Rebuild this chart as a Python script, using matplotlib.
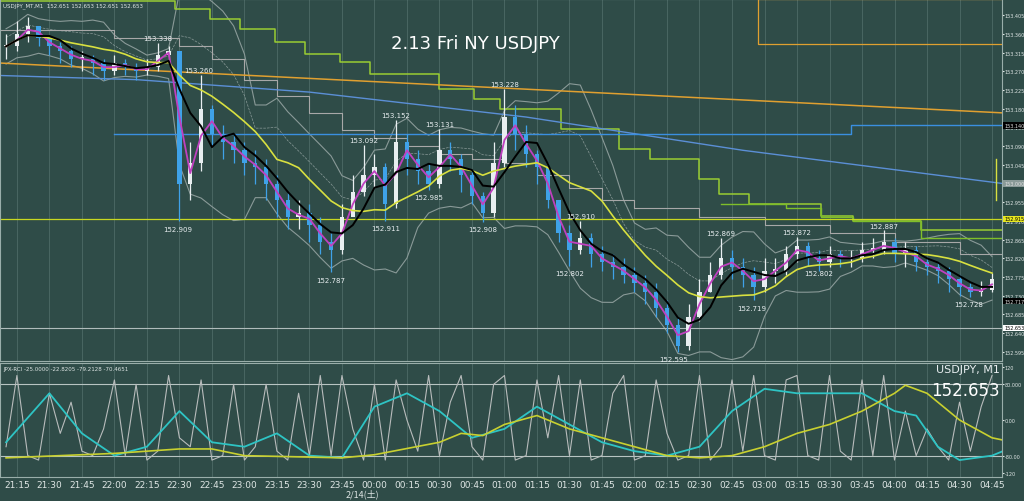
import matplotlib
matplotlib.use("Agg")
import matplotlib.pyplot as plt
import numpy as np
import pandas as pd

BG = "#2f4c48"
# ---- data ----
t0 = 10  # minutes after 21:00, step 5
closes = [153.33,153.36,153.38,153.35,153.33,153.32,153.30,153.30,153.29,153.27,
          153.29,153.28,153.27,153.28,153.31,153.32,153.00,153.05,153.18,153.12,
          153.10,153.08,153.05,153.04,153.00,152.96,152.92,152.93,152.90,152.86,
          152.84,152.92,152.98,153.02,153.04,152.95,153.10,153.06,153.03,153.00,
          153.08,153.06,153.02,152.97,152.93,153.05,153.16,153.12,153.07,153.04,
          152.96,152.88,152.84,152.87,152.83,152.81,152.80,152.78,152.76,152.74,
          152.70,152.66,152.61,152.68,152.74,152.78,152.82,152.80,152.78,152.75,
          152.79,152.79,152.83,152.85,152.82,152.81,152.83,152.82,152.82,152.84,
          152.84,152.86,152.83,152.84,152.81,152.80,152.79,152.77,152.75,152.74,
          152.745,152.77]
highs = [153.36,153.39,153.40,153.38,153.35,153.34,153.33,153.32,153.31,153.30,
         153.31,153.30,153.29,153.30,153.338,153.33,153.32,153.10,153.26,153.19,
         153.14,153.12,153.10,153.08,153.06,153.02,152.98,152.96,152.95,152.92,
         152.88,152.95,153.02,153.092,153.07,153.05,153.152,153.12,153.08,153.05,
         153.131,153.10,153.07,153.03,152.98,153.10,153.228,153.19,153.14,153.08,
         153.05,152.96,152.90,152.910,152.88,152.85,152.83,152.82,152.80,152.78,
         152.76,152.72,152.68,152.71,152.77,152.81,152.869,152.84,152.82,152.80,
         152.82,152.82,152.85,152.872,152.86,152.84,152.85,152.84,152.84,152.86,
         152.87,152.887,152.87,152.86,152.85,152.82,152.81,152.80,152.78,152.76,
         152.765,152.785]
lows = [153.30,153.32,153.34,153.33,153.31,153.29,153.28,153.27,153.26,153.25,
        153.26,153.26,153.25,153.26,153.27,153.30,152.909,152.96,153.03,153.09,
        153.06,153.05,153.02,153.00,152.96,152.92,152.89,152.89,152.86,152.83,
        152.787,152.83,152.93,152.97,152.99,152.911,152.94,153.02,153.00,152.985,
        152.99,153.03,152.98,152.95,152.908,152.92,153.04,153.08,153.04,153.00,
        152.94,152.86,152.802,152.83,152.80,152.79,152.77,152.76,152.74,152.71,
        152.68,152.64,152.595,152.60,152.67,152.74,152.77,152.77,152.75,152.719,
        152.74,152.76,152.78,152.81,152.802,152.79,152.80,152.80,152.80,152.81,
        152.82,152.83,152.81,152.80,152.79,152.78,152.76,152.74,152.73,152.728,
        152.73,152.74]

# step / level lines
stepA_t = [7,88,104,118,134,148,164,178,210,226,238,266,293,307,330,339,353,386,401,432,470]
stepA_p = [153.44,153.42,153.396,153.372,153.341,153.312,153.293,153.264,153.228,153.204,
           153.18,153.132,153.084,153.06,153.011,152.975,152.951,152.922,152.91,152.887,152.887]
stepB_t = [7,60,90,105,120,135,150,165,180,195,210,225,240,255,270,285,300,330,360,390,420,450,470]
stepB_p = [153.37,153.35,153.33,153.30,153.25,153.21,153.17,153.13,153.11,153.09,153.07,
           153.06,153.05,153.02,152.99,152.96,152.94,152.92,152.90,152.88,152.86,152.83,152.83]
stepC_t = [340,370,386,401,432,470]
stepC_p = [152.95,152.94,152.92,152.91,152.87,152.87]
orange_t = [7,470]; orange_p = [153.29,153.17]
blue_t = [7,70,150,250,350,470]; blue_p = [153.26,153.25,153.22,153.16,153.08,153.00]
hblue_t = [60,400,470]; hblue_p = [153.12,153.14,153.14]

labels = [(80,153.338,"153.338"),(99,153.260,"153.260"),(89,152.909,"152.909"),
          (160,152.787,"152.787"),(175,153.092,"153.092"),(185,152.911,"152.911"),
          (190,153.152,"153.152"),(205,152.985,"152.985"),(210,153.131,"153.131"),
          (230,152.908,"152.908"),(240,153.228,"153.228"),(275,152.910,"152.910"),
          (270,152.802,"152.802"),(318,152.595,"152.595"),(340,152.869,"152.869"),
          (354,152.719,"152.719"),(375,152.872,"152.872"),(385,152.802,"152.802"),
          (415,152.887,"152.887"),(454,152.728,"152.728")]

rci_slow_t = [10,60,90,105,120,165,180,210,220,230,240,255,270,285,300,315,330,345,360,375,390,405,420,425,435,450,465,470]
rci_slow = [-85,-75,-65,-65,-80,-85,-78,-50,-30,-35,-10,10,-20,-40,-60,-80,-85,-80,-60,-30,-10,20,60,78,60,0,-40,-45]
rci_mid_t = [10,30,45,60,75,90,105,120,135,150,165,180,195,210,225,240,255,270,285,300,315,330,345,360,375,390,405,420,430,440,450,465,470]
rci_mid = [-50,60,-30,-80,-60,20,-50,-60,-30,-80,-85,30,60,20,-40,-20,30,-10,-50,-70,-80,-60,20,70,60,60,60,20,10,-60,-90,-80,-70]
rci_fast_t = list(range(10,466,5))
rci_fast = [-60,100,-80,-90,60,-30,40,-70,-80,-20,
            90,-80,80,-90,-70,100,-40,-60,90,-90,
            -80,80,-90,-60,80,-70,-90,60,-80,100,
            -80,100,-20,-90,80,-90,90,0,-70,100,
            -80,40,100,-60,-90,80,100,-90,-80,90,
            -40,100,-80,90,-90,-80,60,100,-90,-80,
            90,-30,-90,-80,100,-90,-60,90,-70,100,
            -80,-90,90,100,-80,-90,100,-70,-90,90,
            -80,100,-90,20,-80,-20,-60,-90,40,-70,
            30,100]

times = np.arange(len(closes))*5 + t0
tick_t = list(range(15, 466, 15))
tick_lab = [f"{(21*60+m)//60%24:02d}:{(21*60+m)%60:02d}" for m in tick_t]
price_ticks = [153.405,153.360,153.315,153.270,153.225,153.180,153.135,153.090,153.045,
               153.000,152.955,152.910,152.865,152.820,152.775,152.730,152.685,152.640,152.595]

# ---- figure ----
plt.rcParams['font.family'] = ['DejaVu Sans', 'Noto Sans CJK JP']
W, H = 1024, 502
fig = plt.figure(figsize=(W/100, H/100), dpi=100, facecolor=BG)
XR = (7.2, 469.6)
ax = fig.add_axes([0, 1-362/H, 1002/W, 362/H], facecolor=BG)
ax2 = fig.add_axes([0, 1-478/H, 1002/W, 114/H], facecolor=BG)
for a in (ax, ax2):
    a.set_xlim(*XR)
    for s in a.spines.values():
        s.set_color("#9aaeaa"); s.set_linewidth(0.8)
    for tt in tick_t:
        a.axvline(tt, color="#4d6a66", lw=0.6, zorder=0)
ax.set_ylim(152.573, 153.444)
ax2.set_ylim(-128, 128)

c = pd.Series(closes)
bb_m = c.rolling(8, min_periods=1).mean()
bb_s = c.rolling(8, min_periods=2).std().bfill()
ax.plot(times, bb_m + 2*bb_s, color="#8a9a98", lw=0.8)
ax.plot(times, bb_m - 2*bb_s, color="#8a9a98", lw=0.8)
ax.plot(times, bb_m + 1*bb_s, color="#8a9a98", lw=0.5, ls="--")

ax.step(stepA_t, stepA_p, where="post", color="#9acd32", lw=1.1)
ax.step(stepB_t, stepB_p, where="post", color="#a8a8a8", lw=0.8)
ax.step(stepC_t, stepC_p, where="post", color="#7fbf2a", lw=1.0)
ax.plot(orange_t, orange_p, color="#e0a030", lw=1.1)
ax.plot(blue_t, blue_p, color="#5b8fd6", lw=1.0)
ax.step(hblue_t, hblue_p, where="post", color="#3a8fe0", lw=1.0)
ax.axhline(152.915, color="#c8d820", lw=0.9)
ax.axhline(152.653, color="#b0bcbb", lw=0.8)
ax.plot([357, 470, 470], [153.444, 153.444, 153.335], color="#e0a030", lw=0.9)
ax.plot([357, 357, 470], [153.444, 153.335, 153.335], color="#e0a030", lw=0.9)

opens = [closes[0]] + closes[:-1]
for tt, o, h, l, cl in zip(times, opens, highs, lows, closes):
    col = "#e8eef0" if cl >= o else "#3fa2e8"
    ax.vlines(tt, l, h, color=col, lw=0.9, zorder=3)
    ax.bar(tt, max(abs(cl-o), 0.004), bottom=min(o, cl), width=2.0, color=col, zorder=3)

ax.plot(times, c.rolling(2, min_periods=1).mean(), color="#c040c0", lw=1.3, zorder=4)
ax.plot(times, c.rolling(4, min_periods=1).mean(), color="black", lw=1.4, zorder=5)
ax.plot(times, c.rolling(10, min_periods=1).mean(), color="#d8e040", lw=1.2, zorder=4)

for tt, p, s in labels:
    off = 0.012 if p > c.rolling(4, min_periods=1).mean()[int((tt-t0)//5)] else -0.018
    ax.text(tt, p+off, s, color="#e8eef0", fontsize=5, ha="center", va="center", zorder=6)

ax.yaxis.tick_right()
ax.set_yticks(price_ticks)
ax.set_yticklabels([f"{v:.3f}" for v in price_ticks], fontsize=3.5, color="#dfe6e5")
ax.tick_params(axis="y", length=1.5, pad=0.5, colors="#dfe6e5")
ax.set_xticks([])
boxes = [(153.140, "153.140", "black", "#e0e0e0"), (153.000, "153.000", "#8a9a98", "#e0e0e0"),
         (152.915, "152.915", "#e8e820", "black"), (152.717, "152.717", "black", "#e0e0e0"),
         (152.653, "152.653", "white", "black")]
for p, s, fc, tc in boxes:
    ax.text(1.002, p, s, transform=ax.get_yaxis_transform(), fontsize=3.5, color=tc, zorder=10,
            va="center", ha="left", bbox=dict(fc=fc, ec="none", pad=0.5), clip_on=False)
ax.plot([467, 467], [153.06, 152.96], color="#d8e040", lw=1)
ax.text(0.39, 0.865, "2.13 Fri NY USDJPY", transform=ax.transAxes, fontsize=13, color="white")
ax.text(0.003, 0.99, "USDJPY_MT,M1  152.651 152.653 152.651 152.653", transform=ax.transAxes,
        fontsize=4, color="#dfe6e5", va="top")

ax2.axhline(80, color="#b8c4c2", lw=0.8); ax2.axhline(-80, color="#b8c4c2", lw=0.8)
ax2.plot(rci_fast_t, rci_fast, color="#b8bcbc", lw=0.8)
ax2.plot(rci_mid_t, rci_mid, color="#2ec4c4", lw=1.3)
ax2.plot(rci_slow_t, rci_slow, color="#c8d030", lw=1.2)
ax2.yaxis.tick_right()
ax2.set_yticks([120, 80, 0, -80, -120])
ax2.set_yticklabels(["120", "80.000", "0.00", "-80.00", "-120"], fontsize=3.5, color="#dfe6e5")
ax2.tick_params(axis="y", length=1.5, pad=0.5, colors="#dfe6e5")
ax2.set_xticks(tick_t)
ax2.set_xticklabels(tick_lab, fontsize=6.5, color="#dfe6e5")
ax2.tick_params(axis="x", length=0, pad=2)
ax2.text(0.003, 0.97, "JPX-RCI -25.0000 -22.8205 -79.2128 -70.4651", transform=ax2.transAxes,
         fontsize=4, color="#dfe6e5", va="top")
ax2.text(0.998, 0.99, "USDJPY, M1", transform=ax2.transAxes, fontsize=8, color="#e8eef0", ha="right", va="top")
ax2.text(0.998, 0.84, "152.653", transform=ax2.transAxes, fontsize=12, color="white", ha="right", va="top")
fig.text(362/W, 1-494/H, "2/14(土)", fontsize=6.5, color="#dfe6e5", ha="center", va="center",
         family=['Noto Sans CJK JP', 'DejaVu Sans'])
fig.savefig("out.png", dpi=100, facecolor=BG)
